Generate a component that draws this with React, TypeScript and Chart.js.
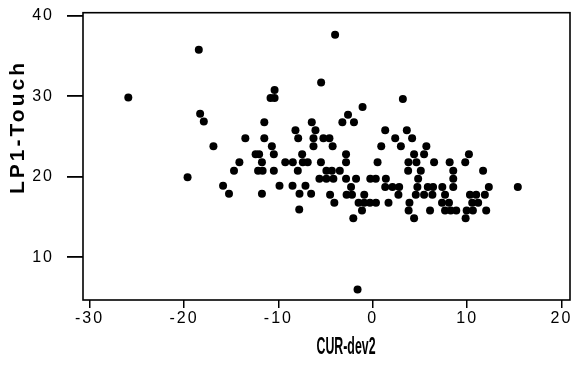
import React, { useEffect, useRef } from "react";
import { Chart, registerables } from "chart.js";

Chart.register(...registerables);

// CUR-dev2 (x) and LP1-Touch (y), one entry per point
const curDev2: number[] = [
  -3.99, -18.43, -25.9, -5.47, -10.4, -10.83, -10.4, 3.19, -1.08, -18.29, -2.62, -17.9,
  -11.49, -6.46, -3.22, -1.99,
  -8.19, -6.07, 1.32, 3.61,
  -13.5, -11.49, -7.9, -6.28, -5.23, -4.59, 2.38, 4.17,
  -16.88, -10.69, -6.28, -4.25, 0.9, 2.98, 5.68,
  -12.41, -12.04, -10.48, -7.48, -2.83, 4.38, 5.44, 10.19,
  -14.13, -11.74, -9.27, -8.47, -7.41, -6.89, -5.49, -2.83, 0.51, 3.78, 4.63, 6.5, 8.15, 9.8,
  -14.7, -12.15, -11.67, -10.48, -7.94, -4.91, -4.33, -3.49, 3.75, 5.09, 8.53, 11.69,
  -19.62,
  -5.65, -4.91, -4.17, -2.83, -1.77, -0.26, 0.32, 1.39, 4.81, 8.53,
  -15.86, -9.88, -8.5, -7.13,
  -2.3, 1.32, 2.09, 2.8, 4.73, 5.83, 6.39, 7.37, 8.53, 12.3, 15.37,
  -15.23, -11.74, -7.76, -6.53,
  -4.52, -2.77, -2.2, -0.9, 2.72, 4.56, 5.44, 6.32, 7.66, 10.3, 10.96, 11.88,
  -4.07, -1.5, -0.9, -0.3, 0.34, 1.67, 3.89, 7.34, 8.08, 10.54, 11.17,
  -7.79,
  -1.14, 3.8, 6.07, 7.66, 8.26, 8.85, 9.95, 10.61, 12.02,
  -2.06, 4.38, 9.84,
  -1.61,
];

const lp1Touch: number[] = [
  37.66, 35.8, 29.87, 31.73, 30.79, 29.79, 29.79, 29.67, 28.67, 27.84, 27.72, 26.88,
  26.78, 26.78, 26.78, 26.78,
  25.79, 25.79, 25.79, 25.79,
  24.79, 24.79, 24.79, 24.79, 24.79, 24.79, 24.79, 24.79,
  23.8, 23.8, 23.8, 23.8, 23.8, 23.8, 23.8,
  22.8, 22.8, 22.8, 22.8, 22.8, 22.8, 22.8, 22.8,
  21.81, 21.81, 21.81, 21.81, 21.81, 21.81, 21.81, 21.81, 21.81, 21.81, 21.81, 21.81, 21.81, 21.81,
  20.75, 20.75, 20.75, 20.75, 20.75, 20.75, 20.75, 20.75, 20.75, 20.75, 20.75, 20.75,
  19.95,
  19.76, 19.76, 19.76, 19.76, 19.76, 19.76, 19.76, 19.76, 19.76, 19.76,
  18.89, 18.89, 18.89, 18.89,
  18.73, 18.73, 18.73, 18.73, 18.73, 18.73, 18.73, 18.73, 18.73, 18.73, 18.73,
  17.89, 17.89, 17.89, 17.89,
  17.77, 17.77, 17.77, 17.77, 17.77, 17.77, 17.77, 17.77, 17.77, 17.77, 17.77, 17.77,
  16.77, 16.77, 16.77, 16.77, 16.77, 16.77, 16.77, 16.77, 16.77, 16.77, 16.77,
  15.94,
  15.82, 15.82, 15.82, 15.82, 15.82, 15.82, 15.82, 15.82, 15.82,
  14.85, 14.85, 14.85,
  6.0,
];

const xTicks: number[] = [-30, -20, -10, 0, 10, 20];
const yTicks: number[] = [10, 20, 30, 40];
const xTitle = "CUR-dev2";
const yTitle = "LP1-Touch";

const framePlugin = {
  id: "frameAndTitles",
  beforeDraw(chart: any) {
    chart.ctx.letterSpacing = "2px";
  },
  afterDraw(chart: any) {
    const { ctx, chartArea } = chart;
    ctx.save();
    ctx.letterSpacing = "0px";
    ctx.strokeStyle = "#000";
    ctx.lineWidth = 1.6;
    ctx.strokeRect(chartArea.left, chartArea.top, chartArea.right - chartArea.left, chartArea.bottom - chartArea.top);
    ctx.restore();

    // y title
    ctx.save();
    ctx.fillStyle = "#000";
    ctx.font = 'bold 21px "Liberation Sans", Arial, sans-serif';
    ctx.letterSpacing = "3px";
    ctx.textAlign = "center";
    ctx.textBaseline = "middle";
    ctx.translate(18, 127);
    ctx.rotate(-Math.PI / 2);
    ctx.fillText(yTitle, 0, 0);
    ctx.restore();

    // x title (condensed)
    ctx.save();
    ctx.fillStyle = "#000";
    ctx.letterSpacing = "0px";
    ctx.font = 'bold 23px "Liberation Sans Narrow", "Liberation Sans", Arial, sans-serif';
    ctx.textAlign = "center";
    ctx.textBaseline = "middle";
    const w = ctx.measureText(xTitle).width;
    ctx.translate(346, 348);
    ctx.scale(59 / w, 1);
    ctx.fillText(xTitle, 0, 0);
    ctx.restore();
    ctx.letterSpacing = "0px";
  },
};

export default function App() {
  const ref = useRef<HTMLCanvasElement | null>(null);
  useEffect(() => {
    if (!ref.current) return;
    Chart.defaults.font.family = '"Liberation Sans", Arial, sans-serif';
    const data = curDev2.map((x, i) => ({ x, y: lp1Touch[i] }));
    const chart = new Chart(ref.current, {
      type: "scatter",
      data: {
        datasets: [
          {
            data,
            backgroundColor: "#000",
            borderWidth: 0,
            pointRadius: 4,
            pointHoverRadius: 4,
          },
        ],
      },
      options: {
        animation: false,
        responsive: true,
        maintainAspectRatio: false,
        layout: { padding: { top: 12.7, right: 3.3, left: 0, bottom: 0 } },
        plugins: { legend: { display: false }, tooltip: { enabled: false } },
        scales: {
          x: {
            type: "linear",
            position: "bottom",
            min: -30.7,
            max: 20.9,
            afterBuildTicks: (s: any) => {
              s.ticks = xTicks.map((v) => ({ value: v }));
            },
            afterFit: (s: any) => {
              s.height = 76;
              s.paddingLeft = 0;
              s.paddingRight = 0;
            },
            ticks: { color: "#000", font: { size: 16 }, padding: 1, autoSkip: false, maxRotation: 0 },
            grid: { drawOnChartArea: false, drawTicks: true, tickLength: 8, color: "#000", lineWidth: 1.5 },
            border: { display: false },
            title: { display: false },
          },
          y: {
            type: "linear",
            min: 4.7,
            max: 40.4,
            afterBuildTicks: (s: any) => {
              s.ticks = yTicks.map((v) => ({ value: v }));
            },
            afterFit: (s: any) => {
              s.width = 83;
              s.paddingTop = 0;
              s.paddingBottom = 0;
            },
            ticks: { color: "#000", font: { size: 16 }, padding: 13, autoSkip: false },
            grid: { drawOnChartArea: false, drawTicks: true, tickLength: 16, color: "#000", lineWidth: 1.8 },
            border: { display: false },
            title: { display: false },
          },
        },
      },
      plugins: [framePlugin],
    });
    return () => chart.destroy();
  }, []);
  return (
    <div style={{ position: "fixed", left: 0, top: 0, width: 574, height: 376, background: "#fff" }}>
      <canvas ref={ref} />
    </div>
  );
}
